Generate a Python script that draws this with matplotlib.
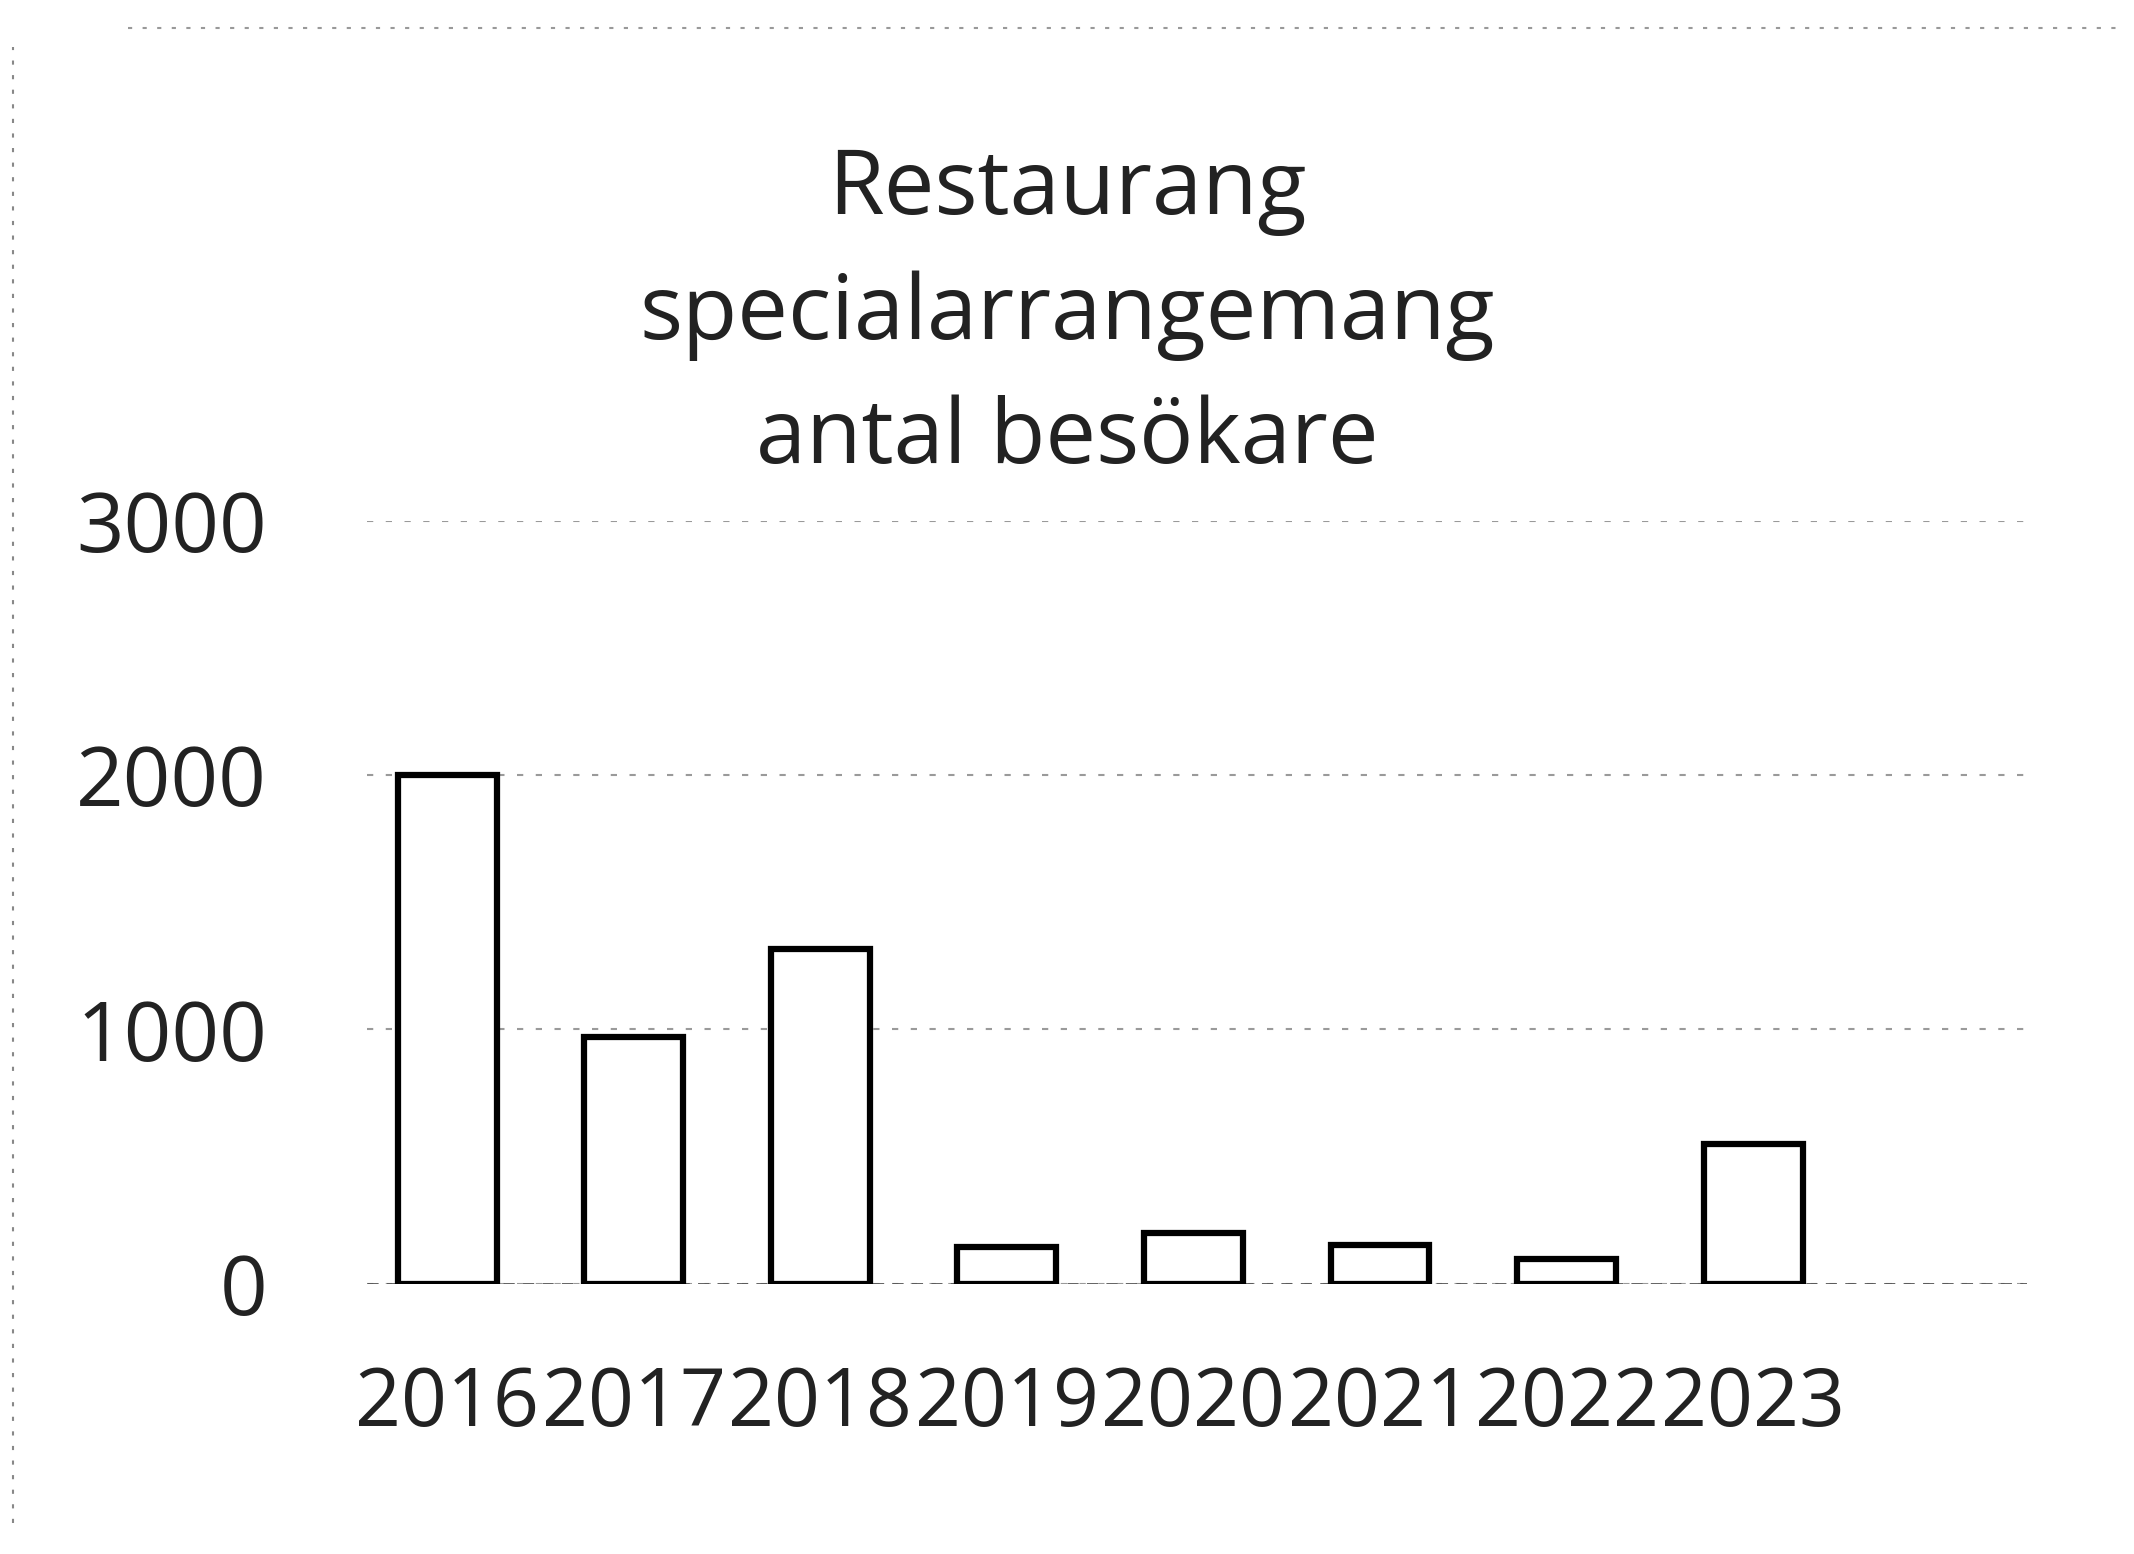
import matplotlib
matplotlib.use("Agg")
import matplotlib.pyplot as plt

years = ["2016", "2017", "2018", "2019", "2020", "2021", "2022", "2023"]
visitors = [2000, 970, 1315, 145, 200, 150, 97, 550]
yticks = [0, 1000, 2000, 3000]
title_lines = ["Restaurang", "specialarrangemang", "antal besökare"]

plt.rcParams['font.family'] = ['Open Sans', 'DejaVu Sans']

fig = plt.figure(figsize=(21.34, 15.54), dpi=100)
ax = fig.add_axes([0.172, 0.174, 0.778, 0.491])

x = list(range(len(years)))
ax.bar(x, visitors, width=0.53, color="white", edgecolor="black", linewidth=4.5, zorder=3)

ax.set_xlim(-0.43, 8.47)
ax.set_ylim(0, 3000)
ax.set_yticks(yticks)
ax.set_yticklabels([str(v) for v in yticks], fontsize=60, color="#222222")
ax.set_xticks(x)
ax.set_xticklabels(years, fontsize=58, color="#222222")
ax.tick_params(axis="y", length=0, pad=72)
ax.tick_params(axis="x", length=0, pad=58)

ax.grid(axis="y", color="#9a9a9a", linestyle=(0, (3, 6)), linewidth=1.5, zorder=0)
for s in ax.spines.values():
    s.set_visible(False)
ax.axhline(0, color="#555555", linestyle=(0, (4, 3)), linewidth=2, zorder=2)

fig.text(0.5, 0.797, "\n".join(title_lines), ha="center", va="center",
         fontsize=65, color="#222222", linespacing=1.5)

# faint scan-edge lines
fig.add_artist(plt.Line2D([0.006, 0.006], [0.02, 0.97], transform=fig.transFigure,
                          color="#888888", linestyle=(0, (2, 5)), linewidth=1.5))
fig.add_artist(plt.Line2D([0.06, 0.995], [0.982, 0.982], transform=fig.transFigure,
                          color="#999999", linestyle=(0, (2, 5)), linewidth=1.5))

fig.savefig("out.png", dpi=100, facecolor="white")
